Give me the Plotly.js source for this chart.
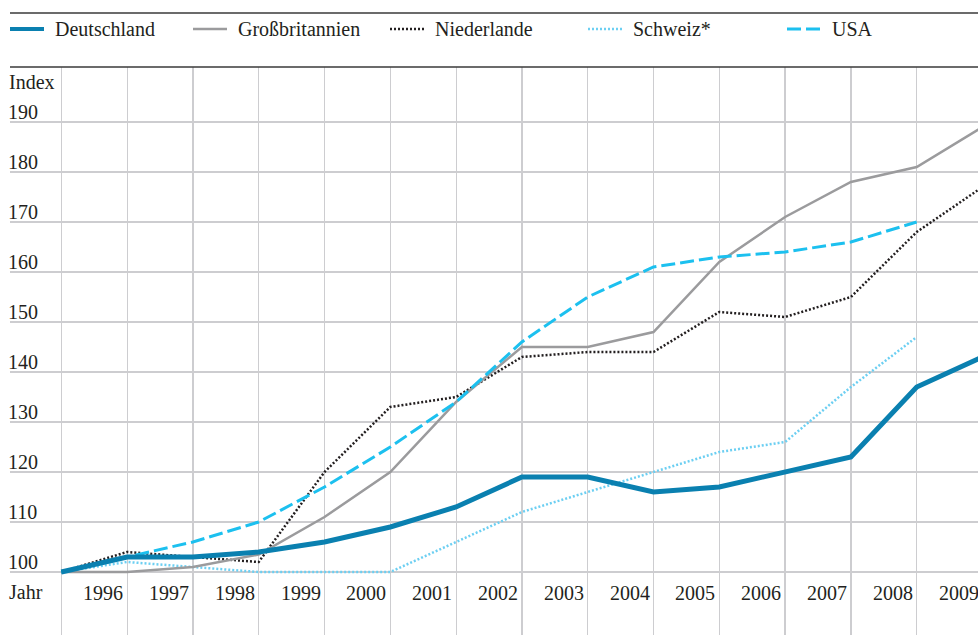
<!DOCTYPE html>
<html>
<head>
<meta charset="utf-8">
<script src="https://cdn.plot.ly/plotly-3.0.1.min.js"></script>
<style>html,body{margin:0;padding:0;background:#fff;}#chart{width:978px;height:635px;}</style>
</head>
<body>
<div id="chart"></div>
<script>
// ---- data ----
const years = [1995,1996,1997,1998,1999,2000,2001,2002,2003,2004,2005,2006,2007,2008,2009];
const yearLabels = ["1996","1997","1998","1999","2000","2001","2002","2003","2004","2005","2006","2007","2008","2009"];
const yTickVals = [100,110,120,130,140,150,160,170,180,190];
const seriesNames = ["Deutschland","Großbritannien","Niederlande","Schweiz*","USA"];
const deutschland    = [100,103,103,104,106,109,113,119,119,116,117,120,123,137,143];
const grossbritannien = [100,100,101,103.5,111,120,134,145,145,148,162,171,178,181,189];
const niederlande    = [100,104,103,102,120,133,135,143,144,144,152,151,155,168,177];
const schweiz        = [100,102,101,100,100,100,106,112,116,120,124,126,137,147,null];
const usa            = [100,103,106,110,117,125,134,146,155,161,163,164,166,170,null];

// ---- styles ----
const W = 978, H = 635;
const txt = "#231f20";
const mkFont = () => ({family: "Liberation Serif", size: 20, color: txt});
const styles = {
  "Deutschland":    {color: "#0a80b0", width: 5,   dash: "solid"},
  "Großbritannien": {color: "#9b9b9d", width: 2.5, dash: "solid"},
  "Niederlande":    {color: "#231f20", width: 2.5, dash: "2px,2px"},
  "Schweiz*":       {color: "#6ccff2", width: 2.5, dash: "2px,2px"},
  "USA":            {color: "#1cc0ef", width: 3,   dash: "14px,5px"}
};
const valuesByName = {
  "Deutschland": deutschland, "Großbritannien": grossbritannien,
  "Niederlande": niederlande, "Schweiz*": schweiz, "USA": usa
};
const drawOrder = ["Schweiz*","Niederlande","Großbritannien","USA","Deutschland"];

const traces = drawOrder.map(n => ({
  type: "scatter", mode: "lines", name: n, x: years, y: valuesByName[n],
  line: {color: styles[n].color, width: styles[n].width, dash: styles[n].dash},
  connectgaps: false, hoverinfo: "skip", showlegend: false
}));

// pixel helpers for paper coords (margins are zero)
const px = v => v / W;
const py = v => 1 - v / H;

const pxPerYear = 65.8;
const xLeft = years[0] - (61.3 - 10) / pxPerYear;
const xRight = xLeft + (W - 10) / pxPerYear;
const pxPerUnit = 5;
const yBottom = 100 - (H - 572) / pxPerUnit;
const yTop = 100 + (572 - 67) / pxPerUnit;
const yearToPaper = yr => px(10 + (yr - xLeft) * pxPerYear);

const annotations = [];
const shapes = [];

// rules
shapes.push({type:"line", xref:"paper", yref:"paper", x0:px(10), x1:1, y0:py(13), y1:py(13), line:{color:"#3a3a3a", width:1.5}});
shapes.push({type:"line", xref:"paper", yref:"paper", x0:px(10), x1:1, y0:py(67), y1:py(67), line:{color:"#3a3a3a", width:1.5}});

// legend (manual)
const legendSampleX = [10, 193, 390, 588, 787];
seriesNames.forEach((n, i) => {
  const x0 = legendSampleX[i];
  const st = styles[n];
  shapes.push({type:"line", xref:"paper", yref:"paper", x0:px(x0), x1:px(x0+34), y0:py(29), y1:py(29),
    line:{color:st.color, width: n === "Deutschland" ? 4 : st.width, dash:st.dash}});
  annotations.push({xref:"paper", yref:"paper", x:px(x0+43), y:py(29), text:n, showarrow:false,
    xanchor:"left", yanchor:"middle", font:mkFont()});
});

// y labels
yTickVals.forEach(v => {
  annotations.push({xref:"paper", yref:"y", x:px(6), y:v, yshift:10, text:String(v), showarrow:false,
    xanchor:"left", yanchor:"middle", font:mkFont()});
});
annotations.push({xref:"paper", yref:"paper", x:px(7), y:py(82), text:"Index", showarrow:false,
  xanchor:"left", yanchor:"middle", font:mkFont()});
annotations.push({xref:"paper", yref:"paper", x:px(7), y:py(592), text:"Jahr", showarrow:false,
  xanchor:"left", yanchor:"middle", font:mkFont()});

// x labels (right-aligned before each year-end gridline)
yearLabels.forEach((lab, i) => {
  annotations.push({xref:"paper", yref:"paper", x:yearToPaper(years[i+1]), xshift:-2, y:py(593), text:lab, showarrow:false,
    xanchor:"right", yanchor:"middle", font:mkFont()});
});

const layout = {
  width: W, height: H,
  margin: {l:0, r:0, t:0, b:0, pad:0},
  paper_bgcolor: "#fff", plot_bgcolor: "#fff",
  showlegend: false,
  xaxis: {
    domain: [px(10), 1], range: [xLeft, xRight],
    tickvals: years, showticklabels: false, ticks: "",
    showgrid: true, gridcolor: "#cdcdd0", gridwidth: 1.2,
    zeroline: false, showline: false, fixedrange: true
  },
  yaxis: {
    domain: [0, py(67)], range: [yBottom, yTop],
    tickvals: yTickVals, showticklabels: false, ticks: "",
    showgrid: true, gridcolor: "#cdcdd0", gridwidth: 1.2,
    zeroline: false, showline: false, fixedrange: true
  },
  shapes: shapes,
  annotations: annotations
};

Plotly.newPlot("chart", traces, layout, {staticPlot: true, displayModeBar: false});
</script>
</body>
</html>
